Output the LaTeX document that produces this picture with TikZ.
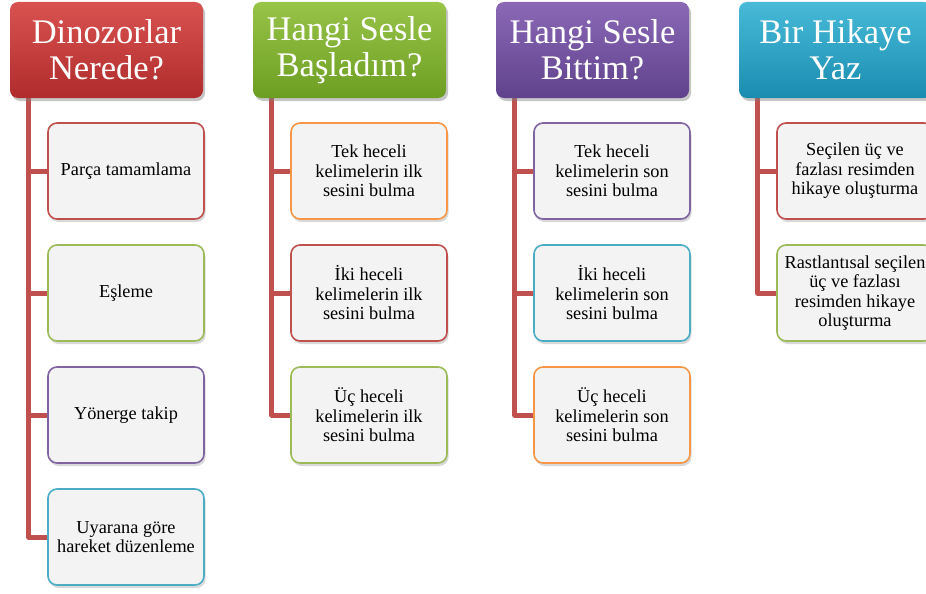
\documentclass[tikz,border=0pt]{standalone}
\usepackage{fontspec}
\setmainfont{Liberation Serif}
\usetikzlibrary{shadows, backgrounds}

\definecolor{kirmizi}{RGB}{192,80,77}
\definecolor{yesil}{RGB}{155,187,89}
\definecolor{mor}{RGB}{128,100,162}
\definecolor{mavi}{RGB}{75,172,198}
\definecolor{turuncu}{RGB}{247,150,70}
\definecolor{kutuici}{RGB}{243,243,243}

\begin{document}
\begin{tikzpicture}
[x=1pt, y=-1pt,
baslik/.style={rectangle, rounded corners=8pt, minimum width=193pt, minimum height=96pt,
  inner sep=0pt, align=center, text=white, font=\fontsize{34.5}{36}\selectfont,
  drop shadow={opacity=0.45, shadow xshift=2pt, shadow yshift=-3pt}},
kutu/.style={rectangle, rounded corners=9pt, draw=#1, line width=1.6pt, fill=kutuici,
  minimum width=156pt, minimum height=96pt, inner sep=2pt, align=center,
  font=\fontsize{18.3}{19.5}\selectfont,
  drop shadow={opacity=0.3, shadow xshift=1.5pt, shadow yshift=-3pt}},
kol/.style={draw=kirmizi, line width=5pt, line join=round}
]

\useasboundingbox (0,0) rectangle (926,594);

% basliklar
\node[baslik, top color={rgb,255:red,216;green,82;blue,80}, bottom color={rgb,255:red,176;green,44;blue,44}]
  (H1) at (106.5,50) {Dinozorlar\\Nerede?};
\node[baslik, top color={rgb,255:red,152;green,196;blue,72}, bottom color={rgb,255:red,108;green,158;blue,34}]
  (H2) at (349.5,50) {Hangi Sesle\\Başladım?};
\node[baslik, top color={rgb,255:red,138;green,104;blue,182}, bottom color={rgb,255:red,96;green,66;blue,140}]
  (H3) at (592.5,50) {Hangi Sesle\\Bittim?};
\node[baslik, top color={rgb,255:red,72;green,186;blue,216}, bottom color={rgb,255:red,26;green,140;blue,176}]
  (H4) at (835.5,50) {Bir Hikaye\\Yaz};

% alt kutular
\foreach \metin/\renk [count=\i] in {Parça tamamlama/kirmizi, Eşleme/yesil,
  Yönerge takip/mor, {Uyarana göre\\hareket düzenleme}/mavi}
  \node[kutu=\renk] (C1\i) at (126,{49+122*\i}) {\metin};

\foreach \metin/\renk [count=\i] in {{Tek heceli\\kelimelerin ilk\\sesini bulma}/turuncu,
  {İki heceli\\kelimelerin ilk\\sesini bulma}/kirmizi,
  {Üç heceli\\kelimelerin ilk\\sesini bulma}/yesil}
  \node[kutu=\renk] (C2\i) at (369,{49+122*\i}) {\metin};

\foreach \metin/\renk [count=\i] in {{Tek heceli\\kelimelerin son\\sesini bulma}/mor,
  {İki heceli\\kelimelerin son\\sesini bulma}/mavi,
  {Üç heceli\\kelimelerin son\\sesini bulma}/turuncu}
  \node[kutu=\renk] (C3\i) at (612,{49+122*\i}) {\metin};

\foreach \metin/\renk [count=\i] in {{Seçilen üç ve\\fazlası resimden\\hikaye oluşturma}/kirmizi,
  {Rastlantısal seçilen\\üç ve fazlası\\resimden hikaye\\oluşturma}/yesil}
  \node[kutu=\renk] (C4\i) at (855,{49+122*\i}) {\metin};

\path
coordinate (T1) at ([xshift=19pt, yshift=6pt]H1.south west)
coordinate (T2) at ([xshift=19pt, yshift=6pt]H2.south west)
coordinate (T3) at ([xshift=19pt, yshift=6pt]H3.south west)
coordinate (T4) at ([xshift=19pt, yshift=6pt]H4.south west)
;

% baglantilar
\begin{scope}[on background layer]
\draw[kol] (T1) |- (C14.west) ;
\draw[kol] (T2) |- (C23.west) ;
\draw[kol] (T3) |- (C33.west) ;
\draw[kol] (T4) |- (C42.west) ;
\foreach \i in {1,2,3}
  {\draw[kol] (T1 |- C1\i.west) -- (C1\i.west) ;}
\foreach \i in {1,2}
  {\draw[kol] (T2 |- C2\i.west) -- (C2\i.west) ;
   \draw[kol] (T3 |- C3\i.west) -- (C3\i.west) ;}
\draw[kol] (T4 |- C41.west) -- (C41.west) ;
\end{scope}

\end{tikzpicture}
\end{document}
